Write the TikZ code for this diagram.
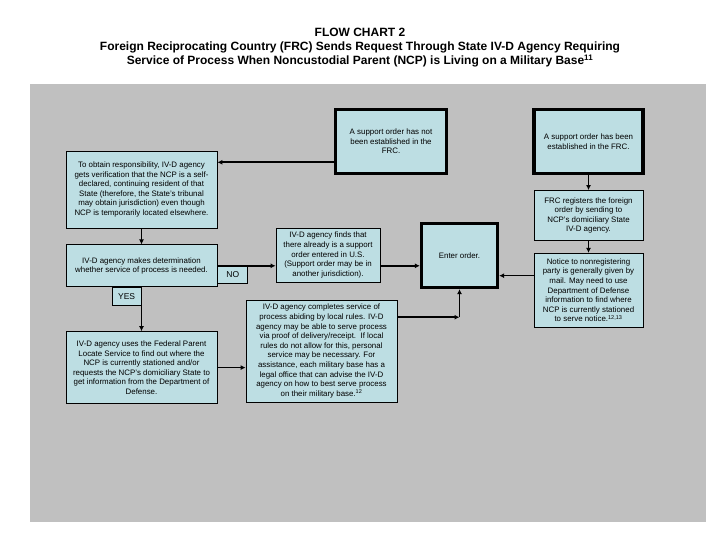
\documentclass[tikz,border=0pt]{standalone}
\usepackage{fontspec}
\setmainfont{Liberation Sans}
\usetikzlibrary{positioning,arrows.meta,calc}
\definecolor{boxfill}{RGB}{189,222,227}
\definecolor{panel}{RGB}{192,192,192}

\begin{document}
\begin{tikzpicture}[
    x=1pt, y=-1pt,
    node distance=16pt,
    box/.style={draw, line width=0.8pt, fill=boxfill, align=center, inner sep=0.5pt,
                font=\fontsize{7.9}{9.6}\selectfont},
    thickbox/.style={box, line width=3.2pt},
    tag/.style={draw, line width=0.8pt, fill=boxfill, inner sep=0pt,
                font=\fontsize{8.5}{9}\selectfont},
    arrow/.style={-{Latex[length=5pt,width=5pt]}, line width=1.6pt},
  ]
    \useasboundingbox (0,0) rectangle (720,540);
    \fill[panel] (30,84) rectangle (706,522);

    % Title
    \node[align=center, font=\fontsize{12}{14}\selectfont\bfseries] (title) at (360,47.5)
      {FLOW CHART 2\\Foreign Reciprocating Country (FRC) Sends Request Through State IV-D Agency Requiring\\
       Service of Process When Noncustodial Parent (NCP) is Living on a Military Base\textsuperscript{11}};

    % Starting points (thick borders)
    \node[thickbox, minimum width=111pt, minimum height=64pt] (notest) at (391,141.5)
      {A support order has not\\been established in the\\FRC.};
    \node[thickbox, minimum width=109pt, minimum height=64pt] (est) at (588.5,141.5)
      {A support order has been\\established in the FRC.};

    % Left column
    \node[box, minimum width=151pt, minimum height=77pt] (resp) at (141.5,189.5)
      {To obtain responsibility, IV-D agency\\gets verification that the NCP is a self-\\
       declared, continuing resident of that\\State (therefore, the State's tribunal\\
       may obtain jurisdiction) even though\\NCP is temporarily located elsewhere.};
    \node[box, minimum width=151pt, minimum height=42pt, below=of resp] (determ)
      {IV-D agency makes determination\\whether service of process is needed.};
    \node[box, minimum width=151pt, minimum height=72pt, below=44pt of determ] (fpls)
      {IV-D agency uses the Federal Parent\\Locate Service to find out where the\\
       NCP is currently stationed and/or\\requests the NCP's domiciliary State to\\
       get information from the Department of\\Defense.};

    % Middle column
    \node[box, minimum width=104pt, minimum height=54pt] (found) at (328,255)
      {IV-D agency finds that\\there already is a support\\order entered in U.S.\\
       (Support order may be in\\another jurisdiction).};
    \node[box, minimum width=151pt, minimum height=102pt,
          font=\fontsize{7.9}{9.6}\selectfont] (serve) at (321.5,351)
      {IV-D agency completes service of\\process abiding by local rules. IV-D\\
       agency may be able to serve process\\via proof of delivery/receipt.\ \ If local\\
       rules do not allow for this, personal\\service may be necessary. For\\
       assistance, each military base has a\\legal office that can advise the IV-D\\
       agency on how to best serve process\\on their military base.\textsuperscript{12}};
    \node[thickbox, minimum width=76pt, minimum height=64pt] (enter) at (459.5,255.5)
      {Enter order.};

    % Right column
    \node[box, minimum width=109pt, minimum height=50pt, below=15pt of est] (regist)
      {FRC registers the foreign\\order by sending to\\NCP's domiciliary State\\IV-D agency.};
    \node[box, minimum width=109pt, minimum height=74pt, below=12pt of regist] (notice)
      {Notice to nonregistering\\party is generally given by\\mail. May need to use\\
       Department of Defense\\information to find where\\NCP is currently stationed\\
       to serve notice.\textsuperscript{12,13}};

    % Answer tags
    \node[tag, anchor=north west, minimum width=30pt, minimum height=17pt] (no) at (determ.east) {NO};
    \node[tag, anchor=north east, minimum width=29pt, minimum height=18pt] (yes) at (determ.south) {YES};

    % Arrows
    \draw[arrow] (notest.200) -- (notest.200 -| resp.east);
    \draw[arrow] (resp) -- (determ);
    \draw[arrow] (determ) -- (fpls);
    \draw[arrow] (determ.east) -- (determ.east -| found.west);
    \draw[arrow] (found.east |- determ.east) -- (enter.west |- determ.east);
    \draw[arrow] (fpls.east) -- (fpls.east -| serve.west);
    \coordinate (turn) at (enter.south |- serve.24);
    \draw[arrow] (serve.24) -- (turn);
    \draw[arrow] (turn) -- (enter.south);
    \draw[arrow] (est) -- (regist);
    \draw[arrow] (regist) -- (notice);
    \draw[arrow] (notice.west |- enter.-27) -- (enter.-27);
  \end{tikzpicture}
\end{document}
